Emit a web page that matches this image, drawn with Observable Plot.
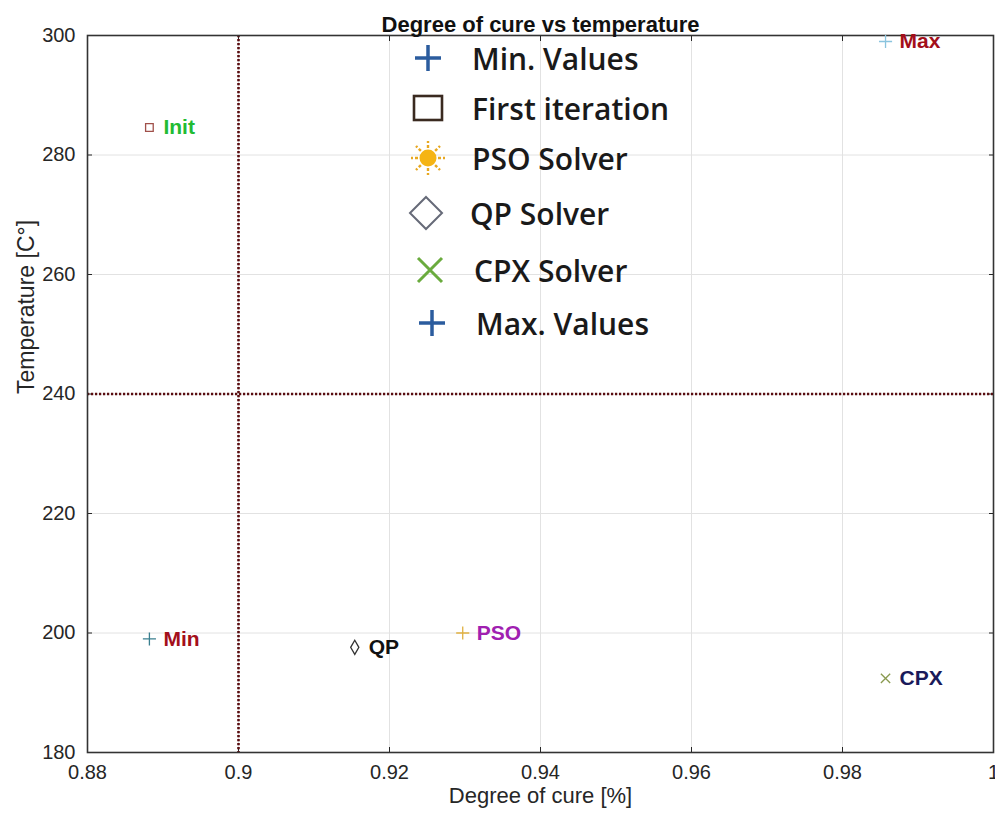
<!DOCTYPE html>
<html>
<head>
<meta charset="utf-8">
<script src="https://cdn.jsdelivr.net/npm/d3@7"></script>
<script src="https://cdn.jsdelivr.net/npm/@observablehq/plot@0.6"></script>
<style>
  html, body { margin: 0; padding: 0; background: #fff; overflow: hidden; }
  #wrap { position: relative; width: 995px; height: 814px; }
  #legend { position: absolute; left: 408px; top: 38px; font-family: "Open Sans", Lato, sans-serif; font-weight: 600; font-size: 30px; color: #1a1a1a; }
  #legend .row { position: absolute; left: 0; white-space: nowrap; height: 40px; display: flex; align-items: center; }
  #legend svg { width: 40px; height: 40px; margin-right: 24px; flex: none; }
</style>
</head>
<body>
<div id="wrap"></div>
<script>
// ---- data ----
const pointNames = ["Init", "Max", "Min", "QP", "PSO", "CPX"];
const cureValues = [0.8882, 0.9857, 0.8882, 0.9154, 0.9297, 0.9857];
const tempValues = [284.6, 299.0, 199.0, 197.6, 200.0, 192.4];
const xTicks = [0.88, 0.9, 0.92, 0.94, 0.96, 0.98, 1];
const yTicks = [180, 200, 220, 240, 260, 280, 300];
const limitCure = [0.9];
const limitTemp = [240];
const legendLabels = ["Min. Values", "First iteration", "PSO Solver", "QP Solver", "CPX Solver", "Max. Values"];

// ---- styles ----
const markerSymbol = {Init: "square", Max: "plus", Min: "plus", QP: "diamond", PSO: "plus", CPX: "times"};
const markerColor = {Init: "#a0504a", Max: "#8ac4de", Min: "#3a7f8f", QP: "#333", PSO: "#e0b040", CPX: "#8a9a50"};
const labelColor = {Init: "#22bb33", Max: "#a30f1a", Min: "#a30f1a", QP: "#111", PSO: "#a020b0", CPX: "#1a1a5a"};

const points = pointNames.map((n, i) => ({name: n, cure: cureValues[i], temp: tempValues[i]}));

const fmt = d => String(+d.toFixed(2));

const chart = Plot.plot({
  width: 995,
  height: 814,
  marginLeft: 87,
  marginRight: 2,
  marginTop: 35,
  marginBottom: 62,
  style: {fontFamily: "'Liberation Sans', Arial, sans-serif", fontSize: "20px", color: "#262626", background: "#fff"},
  x: {domain: [0.88, 1]},
  y: {domain: [180, 300]},
  marks: [
    Plot.gridX(xTicks, {stroke: "#e2e2e2", strokeOpacity: 1}),
    Plot.gridY(yTicks, {stroke: "#e2e2e2", strokeOpacity: 1}),
    Plot.axisX(xTicks, {anchor: "bottom", tickSize: -5, tickPadding: 17, tickFormat: fmt, fontSize: 20, label: null}),
    Plot.axisX(xTicks, {anchor: "top", tickSize: -5, tickFormat: () => "", label: null}),
    Plot.axisY(yTicks, {anchor: "left", tickSize: -5, tickPadding: 17, fontSize: 20, label: null}),
    Plot.axisY(yTicks, {anchor: "right", tickSize: -5, tickFormat: () => "", label: null}),
    Plot.ruleX(limitCure, {stroke: "#5a0d10", strokeWidth: 2.6, strokeDasharray: "2.2,1.8"}),
    Plot.ruleY(limitTemp, {stroke: "#5a0d10", strokeWidth: 2.6, strokeDasharray: "2.2,1.8"}),
    Plot.frame({stroke: "#333", strokeWidth: 1.6}),
    Plot.dot(points, {x: "cure", y: "temp", r: 4.3, symbol: d => markerSymbol[d.name], stroke: d => markerColor[d.name], strokeWidth: 1.3}),
    Plot.text(points, {x: "cure", y: "temp", text: "name", dx: 14, textAnchor: "start", fill: d => labelColor[d.name], fontWeight: "bold", fontSize: 21}),
    Plot.text(["Degree of cure vs temperature"], {frameAnchor: "top", dy: -19, fontWeight: "bold", fontSize: 22, fill: "#111"}),
    Plot.text(["Degree of cure [%]"], {frameAnchor: "bottom", dy: 50, fontSize: 22, fill: "#262626"}),
    Plot.text(["Temperature [C°]"], {frameAnchor: "left", dx: -61, rotate: -90, fontSize: 23, fill: "#262626"})
  ]
});
chart.style.overflow = "visible";
const wrap = document.getElementById("wrap");
wrap.appendChild(chart);

// ---- legend (HTML overlay) ----
const icons = [
  `<svg viewBox="-20 -20 40 40"><path d="M-13,0H13M0,-13V13" stroke="#2b5c9e" stroke-width="3.5"/></svg>`,
  `<svg viewBox="-20 -20 40 40"><rect x="-14" y="-12" width="28" height="24" fill="none" stroke="#3a2a20" stroke-width="2.6"/></svg>`,
  `<svg viewBox="-20 -20 40 40"><g stroke="#e8a820" stroke-width="2.4" stroke-dasharray="3,2">${d3.range(8).map(k => { const a = k * Math.PI / 4; return `<line x1="${(10 * Math.cos(a)).toFixed(1)}" y1="${(10 * Math.sin(a)).toFixed(1)}" x2="${(17 * Math.cos(a)).toFixed(1)}" y2="${(17 * Math.sin(a)).toFixed(1)}"/>`; }).join("")}</g><circle r="8.5" fill="#f5b414"/></svg>`,
  `<svg viewBox="-20 -20 40 40"><path d="M0,-16L16,0L0,16L-16,0Z" fill="none" stroke="#666a78" stroke-width="2"/></svg>`,
  `<svg viewBox="-20 -20 40 40"><path d="M-12,-12L12,12M12,-12L-12,12" stroke="#6aab3e" stroke-width="3"/></svg>`,
  `<svg viewBox="-20 -20 40 40"><path d="M-13,0H13M0,-13V13" stroke="#2b5c9e" stroke-width="3.5"/></svg>`
];
const rowTops = [0, 50, 100, 155, 212, 265];
const rowShift = [0, 0, 0, -2, 2, 4];
const leg = document.createElement("div");
leg.id = "legend";
legendLabels.forEach((lab, i) => {
  const row = document.createElement("div");
  row.className = "row";
  row.style.top = rowTops[i] + "px";
  row.style.left = rowShift[i] + "px";
  row.innerHTML = icons[i] + `<span>${lab}</span>`;
  leg.appendChild(row);
});
wrap.appendChild(leg);
</script>
</body>
</html>
